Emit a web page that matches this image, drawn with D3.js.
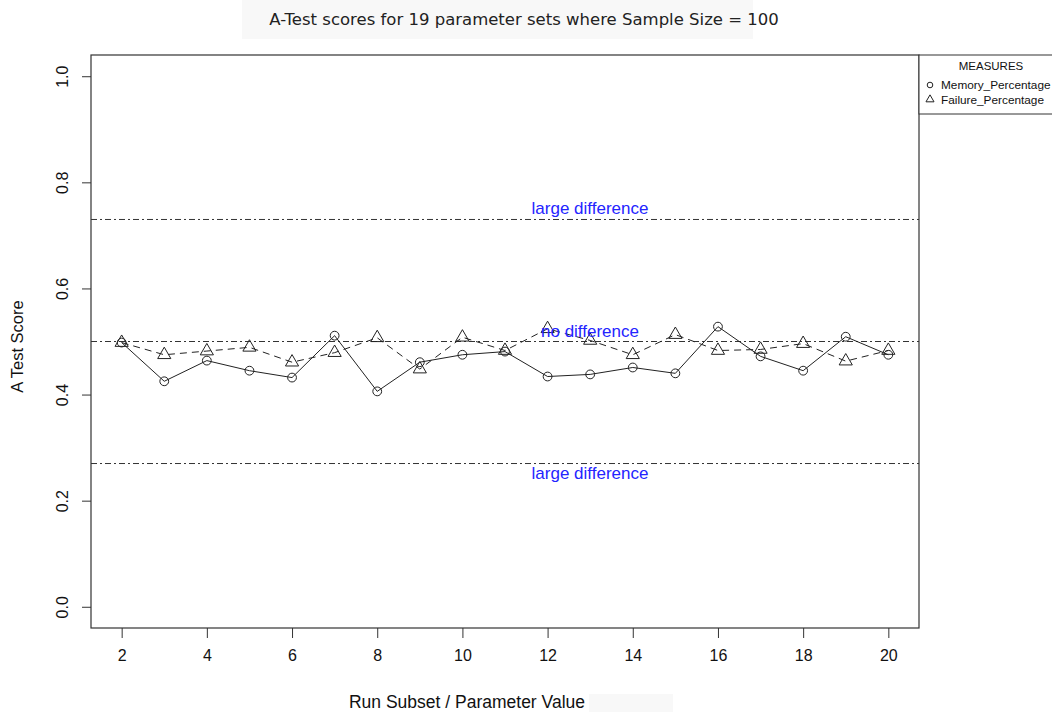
<!DOCTYPE html>
<html>
<head>
<meta charset="utf-8">
<script src="https://cdn.jsdelivr.net/npm/d3@7"></script>
<style>
  html, body { margin: 0; padding: 0; background: #fff; }
  svg { display: block; font-family: "Liberation Sans", Arial, sans-serif; }
</style>
</head>
<body>
<svg id="svg" width="1052" height="714"></svg>
<script>
// --- Data ------------------------------------------------------------------
const params = [2, 3, 4, 5, 6, 7, 8, 9, 10, 11, 12, 13, 14, 15, 16, 17, 18, 19, 20];
const memoryPct = [0.498, 0.425, 0.464, 0.445, 0.432, 0.511, 0.406, 0.461, 0.475, 0.481,
                   0.434, 0.438, 0.451, 0.440, 0.528, 0.472, 0.445, 0.509, 0.475];
const failurePct = [0.498, 0.475, 0.482, 0.489, 0.461, 0.479, 0.507, 0.448, 0.508, 0.483,
                    0.524, 0.502, 0.475, 0.513, 0.483, 0.485, 0.496, 0.463, 0.483];
const xTicks = [2, 4, 6, 8, 10, 12, 14, 16, 18, 20];
const yTicks = [0, 0.2, 0.4, 0.6, 0.8, 1.0];
const refLines = [
  { value: 0.73, label: "large difference", labelValue: 0.752 },
  { value: 0.5, label: "no difference", labelValue: 0.519 },
  { value: 0.27, label: "large difference", labelValue: 0.252 }
];
const measures = ["Memory_Percentage", "Failure_Percentage"];

// --- Layout ----------------------------------------------------------------
const svg = d3.select("#svg");
const box = { left: 91, right: 919, top: 55, bottom: 628 };

// R style: 4% padding on each side of the data range
const x = d3.scaleLinear().domain([1.28, 20.72]).range([box.left, box.right]);
const y = d3.scaleLinear().domain([-0.04, 1.04]).range([box.bottom, box.top]);

// title with its light backdrop
svg.append("rect").attr("x", 242).attr("y", 0).attr("width", 511).attr("height", 39).attr("fill", "#f8f8f8");
svg.append("text")
  .attr("x", 524).attr("y", 25)
  .attr("text-anchor", "middle")
  .attr("font-family", "DejaVu Sans, sans-serif")
  .attr("font-size", 16.5).attr("fill", "#222")
  .text("A-Test scores for 19 parameter sets where Sample Size = 100");

// reference lines
svg.append("g").selectAll("line")
  .data(refLines).enter()
  .append("line")
  .attr("x1", box.left).attr("x2", box.right)
  .attr("y1", d => y(d.value)).attr("y2", d => y(d.value))
  .attr("stroke", "#333").attr("stroke-width", 1)
  .attr("stroke-dasharray", "6,3,2,3");

// lines
const line = d3.line().x((d, i) => x(params[i])).y(d => y(d));
svg.append("path").datum(memoryPct)
  .attr("d", line).attr("fill", "none")
  .attr("stroke", "#222").attr("stroke-width", 1);
svg.append("path").datum(failurePct)
  .attr("d", line).attr("fill", "none")
  .attr("stroke", "#222").attr("stroke-width", 1)
  .attr("stroke-dasharray", "7,5");

// markers
const tri = d3.symbol().type(d3.symbolTriangle).size(75);
svg.append("g").selectAll("circle")
  .data(memoryPct).enter()
  .append("circle")
  .attr("cx", (d, i) => x(params[i])).attr("cy", d => y(d))
  .attr("r", 4.4).attr("fill", "none")
  .attr("stroke", "#222").attr("stroke-width", 1);
svg.append("g").selectAll("path")
  .data(failurePct).enter()
  .append("path")
  .attr("d", tri)
  .attr("transform", (d, i) => `translate(${x(params[i])},${y(d)})`)
  .attr("fill", "none").attr("stroke", "#222").attr("stroke-width", 1);

// ref line labels
svg.append("g").selectAll("text")
  .data(refLines).enter()
  .append("text")
  .attr("x", 590).attr("y", d => y(d.labelValue) + 6)
  .attr("text-anchor", "middle")
  .attr("font-size", 17).attr("fill", "#2424ff")
  .text(d => d.label);

// plot box
svg.append("rect")
  .attr("x", box.left).attr("y", box.top)
  .attr("width", box.right - box.left).attr("height", box.bottom - box.top)
  .attr("fill", "none").attr("stroke", "#333").attr("stroke-width", 1.2);

// axes
const xAxis = svg.append("g")
  .attr("transform", `translate(0,${box.bottom})`)
  .call(d3.axisBottom(x).tickValues(xTicks).tickSize(10).tickPadding(12).tickFormat(d3.format("d")));
xAxis.select(".domain").remove();
xAxis.selectAll("line").attr("stroke", "#333");
xAxis.selectAll("text").attr("font-size", 16).attr("fill", "#111")
  .attr("font-family", "Liberation Sans, Arial, sans-serif");

const yAxis = svg.append("g")
  .attr("transform", `translate(${box.left},0)`)
  .call(d3.axisLeft(y).tickValues(yTicks).tickSize(9).tickFormat(d3.format(".1f")));
yAxis.select(".domain").remove();
yAxis.selectAll("line").attr("stroke", "#333");
yAxis.selectAll("text")
  .attr("font-size", 16).attr("fill", "#111")
  .attr("font-family", "Liberation Sans, Arial, sans-serif")
  .attr("text-anchor", "middle")
  .attr("x", 0).attr("dy", 0)
  .attr("transform", "translate(-29,0) rotate(-90)")
  .attr("y", 6);

// axis titles
svg.append("text")
  .attr("transform", `translate(23,${(box.top + box.bottom) / 2 + 5}) rotate(-90)`)
  .attr("text-anchor", "middle").attr("font-size", 16.5).attr("fill", "#111")
  .text("A Test Score");
svg.append("rect").attr("x", 589).attr("y", 694).attr("width", 84).attr("height", 18).attr("fill", "#f8f8f8");
svg.append("text")
  .attr("x", 467).attr("y", 708)
  .attr("text-anchor", "middle").attr("font-size", 17.5).attr("fill", "#111")
  .text("Run Subset / Parameter Value");

// legend
const legend = svg.append("g").attr("transform", `translate(${box.right},${box.top})`);
legend.append("rect").attr("width", 140).attr("height", 59)
  .attr("fill", "#fff").attr("stroke", "#333").attr("stroke-width", 1);
legend.append("text").attr("x", 72).attr("y", 15)
  .attr("text-anchor", "middle").attr("font-size", 11.5).attr("fill", "#111")
  .text("MEASURES");
legend.selectAll("g.item")
  .data(measures).enter()
  .append("g").attr("class", "item")
  .attr("transform", (d, i) => `translate(0,${30 + i * 14.5})`)
  .each(function(d, i) {
    const g = d3.select(this);
    if (i === 0) {
      g.append("circle").attr("cx", 11).attr("cy", 0).attr("r", 2.8)
        .attr("fill", "none").attr("stroke", "#222");
    } else {
      g.append("path").attr("d", d3.symbol().type(d3.symbolTriangle).size(28))
        .attr("transform", "translate(11,0)")
        .attr("fill", "none").attr("stroke", "#222");
    }
    g.append("text").attr("x", 22).attr("y", 4)
      .attr("font-size", 11.8).attr("fill", "#111").text(d);
  });
</script>
</body>
</html>
